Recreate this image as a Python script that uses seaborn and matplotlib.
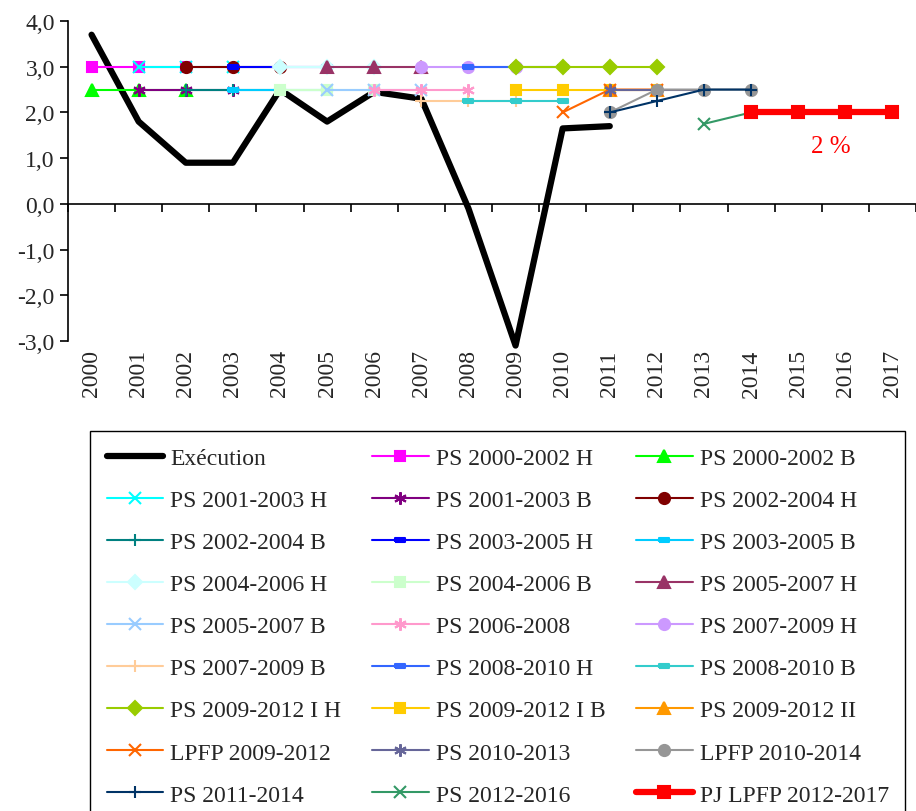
import numpy as np
import pandas as pd
import matplotlib
matplotlib.use('Agg')
import matplotlib.pyplot as plt
import seaborn as sns

sns.set_style('white')
plt.rcParams['font.family'] = ['Liberation Serif', 'DejaVu Serif']

years = list(range(2000, 2018))
y_ticks = [-3, -2, -1, 0, 1, 2, 3, 4]
y_labels = ['-3,0', '-2,0', '-1,0', '0,0', '1,0', '2,0', '3,0', '4,0']

# growth (%) per series, starting at the given first year
execution = [3.7, 1.8, 0.9, 0.9, 2.5, 1.8, 2.45, 2.3, -0.1, -3.1, 1.65, 1.7]
ps_2000_2002_h = [3.0, 3.0, 3.0]
ps_2000_2002_b = [2.5, 2.5, 2.5]
ps_2001_2003_h = [3.0, 3.0, 3.0]
ps_2001_2003_b = [2.5, 2.5, 2.5]
ps_2002_2004_h = [3.0, 3.0, 3.0]
ps_2002_2004_b = [2.5, 2.5, 2.5]
ps_2003_2005_h = [3.0, 3.0, 3.0]
ps_2003_2005_b = [2.5, 2.5, 2.5]
ps_2004_2006_h = [3.0, 3.0, 3.0]
ps_2004_2006_b = [2.5, 2.5, 2.5]
ps_2005_2007_h = [3.0, 3.0, 3.0]
ps_2005_2007_b = [2.5, 2.5, 2.5]
ps_2006_2008 = [2.5, 2.5, 2.5]
ps_2007_2009_h = [3.0, 3.0, 3.0]
ps_2007_2009_b = [2.25, 2.25, 2.25]
ps_2008_2010_h = [3.0, 3.0, 3.0]
ps_2008_2010_b = [2.25, 2.25, 2.25]
ps_2009_2012_ih = [3.0, 3.0, 3.0, 3.0]
ps_2009_2012_ib = [2.5, 2.5, 2.5, 2.5]
ps_2009_2012_ii = [2.5, 2.5]
lpfp_2009_2012 = [2.0, 2.5, 2.5]
ps_2010_2013 = [2.5, 2.5, 2.5]
lpfp_2010_2014 = [2.0, 2.5, 2.5, 2.5]
ps_2011_2014 = [2.0, 2.25, 2.5, 2.5]
ps_2012_2016 = [1.75, 2.0, 2.0, 2.0]
pj_lpfp_2012_2017 = [2.0, 2.0, 2.0, 2.0]

dash = [(-1, -0.35), (1, -0.35), (1, 0.35), (-1, 0.35), (-1, -0.35)]
aster = (6, 2, 0)

# label, first year, values, colour, marker, line width, marker size
series = [
    ('Exécution', 2000, execution, 'black', None, 4.5, 0),
    ('PS 2000-2002 H', 2000, ps_2000_2002_h, '#FF00FF', 's', 1.5, 7),
    ('PS 2000-2002 B', 2000, ps_2000_2002_b, '#00FF00', '^', 1.5, 8),
    ('PS 2001-2003 H', 2001, ps_2001_2003_h, '#00FFFF', 'x', 1.5, 8),
    ('PS 2001-2003 B', 2001, ps_2001_2003_b, '#800080', aster, 1.5, 9),
    ('PS 2002-2004 H', 2002, ps_2002_2004_h, '#800000', 'o', 1.5, 8),
    ('PS 2002-2004 B', 2002, ps_2002_2004_b, '#008080', '+', 1.5, 9),
    ('PS 2003-2005 H', 2003, ps_2003_2005_h, '#0000FF', dash, 1.5, 7),
    ('PS 2003-2005 B', 2003, ps_2003_2005_b, '#00CCFF', dash, 1.5, 7),
    ('PS 2004-2006 H', 2004, ps_2004_2006_h, '#CCFFFF', 'D', 1.5, 7),
    ('PS 2004-2006 B', 2004, ps_2004_2006_b, '#CCFFCC', 's', 1.5, 7),
    ('PS 2005-2007 H', 2005, ps_2005_2007_h, '#993366', '^', 1.5, 8),
    ('PS 2005-2007 B', 2005, ps_2005_2007_b, '#99CCFF', 'x', 1.5, 8),
    ('PS 2006-2008', 2006, ps_2006_2008, '#FF99CC', aster, 1.5, 9),
    ('PS 2007-2009 H', 2007, ps_2007_2009_h, '#CC99FF', 'o', 1.5, 8),
    ('PS 2007-2009 B', 2007, ps_2007_2009_b, '#FFCC99', '+', 1.5, 9),
    ('PS 2008-2010 H', 2008, ps_2008_2010_h, '#3366FF', dash, 1.5, 7),
    ('PS 2008-2010 B', 2008, ps_2008_2010_b, '#33CCCC', dash, 1.5, 7),
    ('PS 2009-2012 I H', 2009, ps_2009_2012_ih, '#99CC00', 'D', 1.5, 7),
    ('PS 2009-2012 I B', 2009, ps_2009_2012_ib, '#FFCC00', 's', 1.5, 7),
    ('PS 2009-2012 II', 2011, ps_2009_2012_ii, '#FF9900', '^', 1.5, 8),
    ('LPFP 2009-2012', 2010, lpfp_2009_2012, '#FF6600', 'x', 1.5, 8),
    ('PS 2010-2013', 2011, ps_2010_2013, '#666699', aster, 1.5, 9),
    ('LPFP 2010-2014', 2011, lpfp_2010_2014, '#969696', 'o', 1.5, 8),
    ('PS 2011-2014', 2011, ps_2011_2014, '#003366', '+', 1.5, 9),
    ('PS 2012-2016', 2013, ps_2012_2016, '#339966', 'x', 1.5, 8),
    ('PJ LPFP 2012-2017', 2014, pj_lpfp_2012_2017, '#FF0000', 's', 4.5, 8),
]

fig = plt.figure(figsize=(9.16, 8.12), dpi=100)
ax = fig.add_axes([68 / 916, 1 - 342 / 812, 848 / 916, 320 / 812])

for label, start, vals, color, marker, lw, ms in series:
    df = pd.DataFrame({'idx': [years.index(start) + i for i in range(len(vals))],
                       'value': vals})
    kw = dict(color=color, lw=lw, label=label, ax=ax, clip_on=False)
    if marker is not None:
        kw.update(marker=marker, markersize=ms, markerfacecolor=color,
                  markeredgecolor=color, markeredgewidth=1.5)
    sns.lineplot(data=df, x='idx', y='value', **kw)

ax.text(15.7, 1.27, '2 %', color='red', fontsize=18, ha='center', va='center')

ax.set_xlim(-0.5, 17.5)
ax.set_ylim(-3, 4)
ax.set_xlabel('')
ax.set_ylabel('')
for s in ['top', 'right']:
    ax.spines[s].set_visible(False)
ax.spines['bottom'].set_position(('data', 0))
for s in ['left', 'bottom']:
    ax.spines[s].set_color('black')
    ax.spines[s].set_linewidth(1.2)
ax.set_xticks(np.arange(-0.5, 18, 1))
ax.set_xticklabels([])
ax.set_yticks(y_ticks)
ax.set_yticklabels(y_labels, fontsize=17)
ax.tick_params(axis='both', direction='out', length=6, width=1.2, color='black',
               left=True, bottom=True)

sec = ax.secondary_xaxis('bottom')
sec.set_xticks(range(len(years)))
sec.set_xticklabels([str(y) for y in years], rotation=90, fontsize=17)
sec.tick_params(length=0, pad=6)
sec.spines['bottom'].set_visible(False)

handles, labels = ax.get_legend_handles_labels()
if ax.get_legend() is not None:
    ax.get_legend().remove()
order = [i for c in range(3) for i in range(c, len(handles), 3)]
leg = fig.legend([handles[i] for i in order], [labels[i] for i in order],
                 loc='upper left', bbox_to_anchor=(90 / 916, 1 - 432 / 812),
                 ncol=3, fontsize=17, frameon=True, fancybox=False,
                 edgecolor='black', framealpha=1, handlelength=2.4,
                 handletextpad=0.3, columnspacing=1.3, labelspacing=0.87,
                 borderpad=0.7, borderaxespad=0)
leg.get_frame().set_linewidth(1.0)

fig.savefig('out.png', dpi=100, facecolor='white')
